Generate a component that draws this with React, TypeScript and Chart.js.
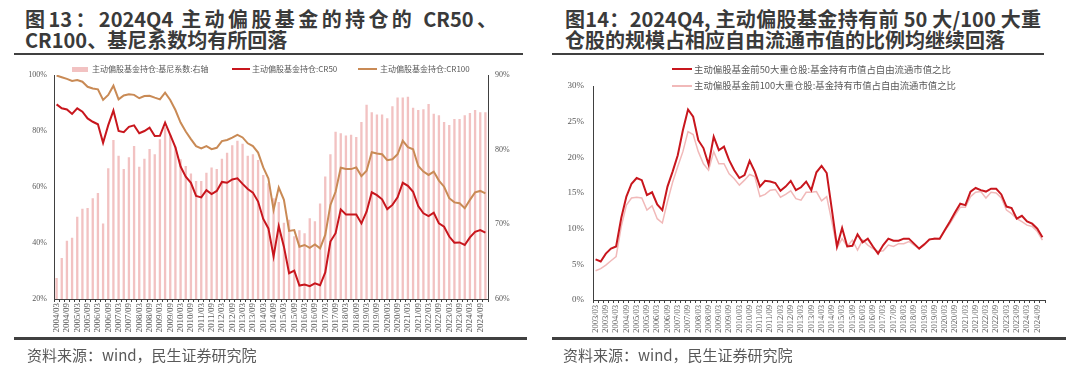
import React, { useEffect, useRef } from 'react';
import { Chart, registerables } from 'chart.js';

Chart.register(...registerables);

// ---------------- Figure 13 data (quarterly, 2004Q1 – 2024Q4) ----------------
const leftQuarters = [
  '2004/03', '2004/06', '2004/09', '2004/12', '2005/03', '2005/06', '2005/09', '2005/12',
  '2006/03', '2006/06', '2006/09', '2006/12', '2007/03', '2007/06', '2007/09', '2007/12',
  '2008/03', '2008/06', '2008/09', '2008/12', '2009/03', '2009/06', '2009/09', '2009/12',
  '2010/03', '2010/06', '2010/09', '2010/12', '2011/03', '2011/06', '2011/09', '2011/12',
  '2012/03', '2012/06', '2012/09', '2012/12', '2013/03', '2013/06', '2013/09', '2013/12',
  '2014/03', '2014/06', '2014/09', '2014/12', '2015/03', '2015/06', '2015/09', '2015/12',
  '2016/03', '2016/06', '2016/09', '2016/12', '2017/03', '2017/06', '2017/09', '2017/12',
  '2018/03', '2018/06', '2018/09', '2018/12', '2019/03', '2019/06', '2019/09', '2019/12',
  '2020/03', '2020/06', '2020/09', '2020/12', '2021/03', '2021/06', '2021/09', '2021/12',
  '2022/03', '2022/06', '2022/09', '2022/12', '2023/03', '2023/06', '2023/09', '2023/12',
  '2024/03', '2024/06', '2024/09', '2024/12',
];

// 基尼系数 (right axis, %)
const giniValues = [
  62.8, 65.5, 67.8, 68.2, 71.0, 72.1, 72.2, 73.5, 74.2, 70.1,
  77.5, 81.3, 79.2, 77.4, 79.0, 80.5, 77.7, 78.8, 80.1, 79.4,
  81.4, 83.0, 82.0, 80.4, 78.7, 77.8, 76.8, 75.8, 75.8, 76.9,
  77.6, 77.4, 78.8, 79.6, 80.6, 81.2, 80.8, 79.2, 79.4, 78.6,
  76.6, 75.5, 73.5, 73.0, 70.2, 70.6, 68.4, 69.2, 68.8, 70.8,
  70.4, 72.8, 76.4, 79.4, 82.4, 82.2, 81.9, 82.0, 81.7, 83.7,
  86.0, 85.0, 84.7, 84.7, 84.2, 85.8, 87.0, 87.0, 87.1, 85.6,
  85.3, 85.4, 86.1, 84.8, 84.6, 83.7, 83.3, 84.1, 84.1, 84.6,
  84.9, 85.3, 85.0, 85.0,
];

// CR50 (left axis, %)
const cr50Values = [
  89.5, 88.1, 87.7, 86.1, 88.1, 86.9, 84.5, 83.3, 82.4, 75.8,
  82.1, 87.3, 80.0, 79.6, 81.5, 82.0, 79.2, 80.0, 81.2, 78.2,
  78.3, 83.0, 78.6, 74.2, 67.3, 63.7, 61.5, 56.8, 56.3, 58.9,
  57.5, 58.6, 61.8, 61.5, 62.7, 63.1, 61.1, 59.3, 58.0, 54.8,
  48.6, 45.2, 35.2, 46.0, 38.7, 29.2, 30.1, 24.8, 25.2, 24.6,
  25.6, 24.9, 29.5, 40.5, 43.5, 52.0, 50.2, 50.2, 50.2, 47.0,
  51.2, 58.1, 57.1, 55.6, 52.1, 53.6, 56.3, 61.5, 60.4, 58.3,
  53.2, 50.6, 49.6, 50.8, 47.0, 45.8, 42.3, 40.1, 40.2, 39.3,
  42.0, 44.0, 44.6, 43.7,
];

// CR100 (left axis, %)
const cr100Values = [
  99.8, 99.2, 98.6, 97.9, 98.2, 97.6, 95.8, 95.2, 94.9, 91.1,
  92.9, 96.2, 91.3, 92.7, 93.1, 92.9, 91.7, 92.5, 92.6, 91.9,
  91.3, 93.7, 91.1, 87.5, 83.0, 79.8, 77.1, 74.6, 73.8, 74.6,
  73.5, 74.0, 76.4, 76.8, 77.6, 78.6, 77.7, 75.6, 74.6, 72.3,
  67.0, 63.0, 51.8, 59.8, 55.4, 44.3, 44.6, 38.7, 39.3, 38.3,
  39.5, 38.1, 42.9, 53.6, 58.3, 66.9, 66.4, 66.4, 67.0, 63.9,
  65.8, 72.4, 72.0, 71.7, 69.6, 69.9, 71.7, 76.5, 74.2, 73.5,
  67.5, 65.5, 64.3, 65.5, 62.3, 60.1, 56.0, 54.5, 54.2, 52.4,
  55.4, 58.1, 58.6, 57.7,
];

const leftAxisTicks = [20, 40, 60, 80, 100];
const rightAxisTicks = [60, 70, 80, 90];

// ---------------- Figure 14 data (quarterly, 2003Q1 – 2024Q4) ----------------
const rightQuarters = [
  '2003/03', '2003/06', '2003/09', '2003/12',
  ...leftQuarters,
];

// 前50大重仓股: 基金持有市值占自由流通市值之比 (%)
const top50Ratio = [
  5.7, 5.4, 6.5, 7.2, 7.5, 11.5, 14.5, 16.3, 17.1, 16.8,
  14.7, 15.1, 13.4, 12.6, 15.9, 18.0, 20.3, 23.8, 26.7, 25.7,
  22.4, 21.3, 19.0, 22.9, 21.0, 21.5, 19.6, 18.2, 17.1, 17.5,
  19.5, 18.0, 15.9, 16.7, 16.6, 16.4, 15.3, 15.9, 16.7, 15.4,
  15.8, 16.6, 15.4, 17.9, 18.8, 17.8, 12.7, 7.5, 10.1, 7.5,
  7.6, 9.2, 8.1, 8.6, 7.5, 6.5, 7.7, 8.6, 8.3, 8.3,
  8.6, 8.6, 7.9, 7.2, 7.8, 8.5, 8.6, 8.6, 9.8, 11.0,
  12.3, 13.5, 13.3, 15.2, 15.7, 15.4, 15.2, 15.6, 15.6, 14.8,
  13.1, 12.9, 11.4, 11.8, 11.0, 10.7, 10.0, 8.8,
];

// 前100大重仓股: 基金持有市值占自由流通市值之比 (%)
const top100Ratio = [
  4.1, 4.4, 4.9, 5.5, 6.1, 10.3, 13.3, 14.3, 14.4, 14.3,
  12.6, 13.2, 11.4, 10.8, 13.8, 16.5, 18.7, 20.8, 23.6, 23.2,
  20.8, 19.1, 18.2, 20.8, 19.1, 19.1, 17.7, 17.0, 16.1, 16.8,
  17.6, 17.3, 14.5, 14.8, 15.4, 15.5, 14.4, 14.8, 15.3, 14.2,
  14.0, 15.1, 15.1, 15.2, 13.9, 14.5, 11.0, 7.3, 8.6, 7.5,
  8.4, 7.0, 8.4, 7.7, 7.2, 6.8, 6.9, 7.7, 7.5, 7.9,
  7.9, 8.2, 7.7, 7.2, 7.7, 8.4, 8.7, 8.6, 9.7, 10.7,
  11.9, 13.0, 13.0, 14.5, 15.1, 15.2, 14.3, 15.1, 15.0, 14.3,
  12.6, 12.1, 11.4, 11.0, 10.5, 10.3, 9.6, 8.4,
];

const ratioAxisTicks = [0, 5, 10, 15, 20, 25, 30];

const leftLegend = ['主动偏股基金持仓:基尼系数:右轴', '主动偏股基金持仓:CR50', '主动偏股基金持仓:CR100'];
const rightLegend = [
  '主动偏股基金前50大重仓股:基金持有市值占自由流通市值之比',
  '主动偏股基金前100大重仓股:基金持有市值占自由流通市值之比',
];

// ---------------- styles ----------------
const RED = '#c8161d';
const ORANGE = '#c98a55';
const PINK_BAR = '#f2c2c2';
const PINK_LINE = '#f1b9b9';
const AXIS = '#404040';
const LABEL = '#595959';
const CJK = '"Noto Sans CJK SC", "Noto Sans", sans-serif';
const SERIF = '"Liberation Serif", "DejaVu Serif", serif';

function pct(v: number | string) {
  return `${v}%`;
}

function fixedTicks(values: number[]) {
  return (scale: any) => {
    scale.ticks = values.map((v) => ({ value: v }));
  };
}

export default function App() {
  const leftRef = useRef<HTMLCanvasElement>(null);
  const rightRef = useRef<HTMLCanvasElement>(null);

  useEffect(() => {
    const leftChart = new Chart(leftRef.current as HTMLCanvasElement, {
      type: 'bar',
      data: {
        labels: leftQuarters,
        datasets: [
          {
            type: 'bar',
            label: leftLegend[0],
            data: giniValues,
            yAxisID: 'y1',
            backgroundColor: PINK_BAR,
            barPercentage: 0.45,
            categoryPercentage: 1,
            order: 3,
          } as any,
          {
            type: 'line',
            label: leftLegend[1],
            data: cr50Values,
            yAxisID: 'y',
            borderColor: RED,
            backgroundColor: RED,
            borderWidth: 2,
            pointRadius: 0,
            tension: 0,
            fill: false,
            order: 1,
          } as any,
          {
            type: 'line',
            label: leftLegend[2],
            data: cr100Values,
            yAxisID: 'y',
            borderColor: ORANGE,
            backgroundColor: ORANGE,
            borderWidth: 2,
            pointRadius: 0,
            tension: 0,
            fill: false,
            order: 2,
          } as any,
        ],
      },
      options: {
        responsive: false,
        animation: false,
        devicePixelRatio: 1,
        layout: { padding: { top: 17, left: 0, right: 0, bottom: 0 } },
        plugins: { legend: { display: false }, tooltip: { enabled: false } },
        scales: {
          x: {
            type: 'category',
            offset: true,
            afterFit: (s: any) => {
              s.height = 40;
            },
            grid: { display: true, drawOnChartArea: false, drawTicks: true, tickLength: 3, color: AXIS, offset: true },
            border: { display: true, color: AXIS, width: 1 },
            ticks: {
              autoSkip: false,
              maxRotation: 90,
              minRotation: 90,
              padding: 1,
              color: LABEL,
              font: { family: SERIF, size: 9 },
              callback: (_v: any, i: number) => (i % 2 === 0 ? leftQuarters[i] : ''),
            },
          },
          y: {
            position: 'left',
            min: 20,
            max: 100,
            afterBuildTicks: fixedTicks(leftAxisTicks),
            afterFit: (s: any) => {
              s.width = 40;
            },
            grid: { display: true, drawOnChartArea: false, drawTicks: false },
            border: { display: true, color: AXIS, width: 1 },
            ticks: { padding: 7, color: LABEL, font: { family: SERIF, size: 8 }, callback: pct },
          },
          y1: {
            position: 'right',
            min: 60,
            max: 90,
            afterBuildTicks: fixedTicks(rightAxisTicks),
            afterFit: (s: any) => {
              s.width = 37;
            },
            grid: { display: true, drawOnChartArea: false, drawTicks: false },
            border: { display: true, color: AXIS, width: 1 },
            ticks: { padding: 7, color: LABEL, font: { family: SERIF, size: 8 }, callback: pct },
          },
        },
      } as any,
    });

    const rightChart = new Chart(rightRef.current as HTMLCanvasElement, {
      type: 'line',
      data: {
        labels: rightQuarters,
        datasets: [
          {
            label: rightLegend[0],
            data: top50Ratio,
            borderColor: RED,
            backgroundColor: RED,
            borderWidth: 2,
            pointRadius: 0,
            tension: 0,
            fill: false,
          },
          {
            label: rightLegend[1],
            data: top100Ratio,
            borderColor: PINK_LINE,
            backgroundColor: PINK_LINE,
            borderWidth: 1.5,
            pointRadius: 0,
            tension: 0,
            fill: false,
          },
        ],
      },
      options: {
        responsive: false,
        animation: false,
        devicePixelRatio: 1,
        layout: { padding: { top: 28, left: 0, right: 15, bottom: 0 } },
        plugins: { legend: { display: false }, tooltip: { enabled: false } },
        scales: {
          x: {
            type: 'category',
            offset: true,
            afterFit: (s: any) => {
              s.height = 39;
            },
            grid: { display: true, drawOnChartArea: false, drawTicks: true, tickLength: 3, color: AXIS, offset: true },
            border: { display: true, color: AXIS, width: 1 },
            ticks: {
              autoSkip: false,
              maxRotation: 90,
              minRotation: 90,
              padding: 2,
              color: LABEL,
              font: { family: SERIF, size: 8.5 },
              callback: (_v: any, i: number) => (i % 2 === 0 ? rightQuarters[i] : ''),
            },
          },
          y: {
            position: 'left',
            min: 0,
            max: 30,
            afterBuildTicks: fixedTicks(ratioAxisTicks),
            afterFit: (s: any) => {
              s.width = 41;
            },
            grid: { display: true, drawOnChartArea: false, drawTicks: false },
            border: { display: true, color: AXIS, width: 1 },
            ticks: { padding: 9, color: LABEL, font: { family: SERIF, size: 9 }, callback: pct },
          },
        },
      } as any,
    });

    return () => {
      leftChart.destroy();
      rightChart.destroy();
    };
  }, []);

  const titleStyle: React.CSSProperties = {
    position: 'absolute',
    fontFamily: CJK,
    fontSize: 20,
    fontWeight: 700,
    lineHeight: '22px',
    color: '#3a3a3a',
    margin: 0,
  };
  const justify: React.CSSProperties = { textAlign: 'justify', textAlignLast: 'justify' as any };
  const rule = (left: number, top: number, width: number): React.CSSProperties => ({
    position: 'absolute',
    left,
    top,
    width,
    height: 2.5,
    background: '#404040',
  });
  const legendText: React.CSSProperties = {
    position: 'absolute',
    fontFamily: CJK,
    color: LABEL,
    whiteSpace: 'nowrap',
  };
  const sourceStyle: React.CSSProperties = {
    position: 'absolute',
    top: 344,
    fontFamily: CJK,
    fontSize: 15,
    lineHeight: '22px',
    color: '#595959',
    whiteSpace: 'nowrap',
  };

  return (
    <div
      style={{
        position: 'absolute',
        left: 0,
        top: 0,
        width: 1080,
        height: 365,
        background: '#ffffff',
        overflow: 'hidden',
      }}
    >
      {/* ---------- Left panel ---------- */}
      <div style={{ ...titleStyle, ...justify, left: 25, top: 8, width: 472 }}>图13：2024Q4 主动偏股基金的持仓的 CR50、</div>
      <div style={{ ...titleStyle, left: 25, top: 29, whiteSpace: 'nowrap' }}>CR100、基尼系数均有所回落</div>
      <div style={rule(14, 52.5, 509)} />

      <canvas
        ref={leftRef}
        width={511}
        height={281}
        style={{ position: 'absolute', left: 14, top: 58, width: 511, height: 281 }}
      />

      <div style={{ position: 'absolute', left: 72, top: 66.5, width: 16, height: 5, background: PINK_BAR }} />
      <div style={{ ...legendText, left: 92, top: 63, fontSize: 8, lineHeight: '12px' }}>{leftLegend[0]}</div>
      <div style={{ position: 'absolute', left: 232, top: 68, width: 18, height: 2, background: RED }} />
      <div style={{ ...legendText, left: 252, top: 63, fontSize: 8, lineHeight: '12px' }}>{leftLegend[1]}</div>
      <div style={{ position: 'absolute', left: 358, top: 68, width: 19, height: 2, background: ORANGE }} />
      <div style={{ ...legendText, left: 380, top: 63, fontSize: 8, lineHeight: '12px' }}>{leftLegend[2]}</div>

      <div style={rule(14, 337, 513)} />
      <div style={{ ...sourceStyle, left: 27 }}>资料来源：wind，民生证券研究院</div>

      {/* ---------- Right panel ---------- */}
      <div style={{ ...titleStyle, ...justify, left: 565, top: 8, width: 476 }}>图14：2024Q4, 主动偏股基金持有前 50 大/100 大重</div>
      <div style={{ ...titleStyle, left: 565, top: 29, whiteSpace: 'nowrap' }}>仓股的规模占相应自由流通市值的比例均继续回落</div>
      <div style={rule(552, 52.5, 492)} />

      <canvas
        ref={rightRef}
        width={508}
        height={281}
        style={{ position: 'absolute', left: 552, top: 58, width: 508, height: 281 }}
      />

      <div style={{ position: 'absolute', left: 672, top: 68, width: 20, height: 2, background: RED }} />
      <div style={{ ...legendText, left: 694, top: 62.5, fontSize: 9.4, lineHeight: '13px' }}>{rightLegend[0]}</div>
      <div style={{ position: 'absolute', left: 672, top: 85, width: 20, height: 1.5, background: PINK_LINE }} />
      <div style={{ ...legendText, left: 694, top: 79, fontSize: 9.4, lineHeight: '13px' }}>{rightLegend[1]}</div>

      <div style={rule(552, 337, 514)} />
      <div style={{ ...sourceStyle, left: 563 }}>资料来源：wind，民生证券研究院</div>
    </div>
  );
}
